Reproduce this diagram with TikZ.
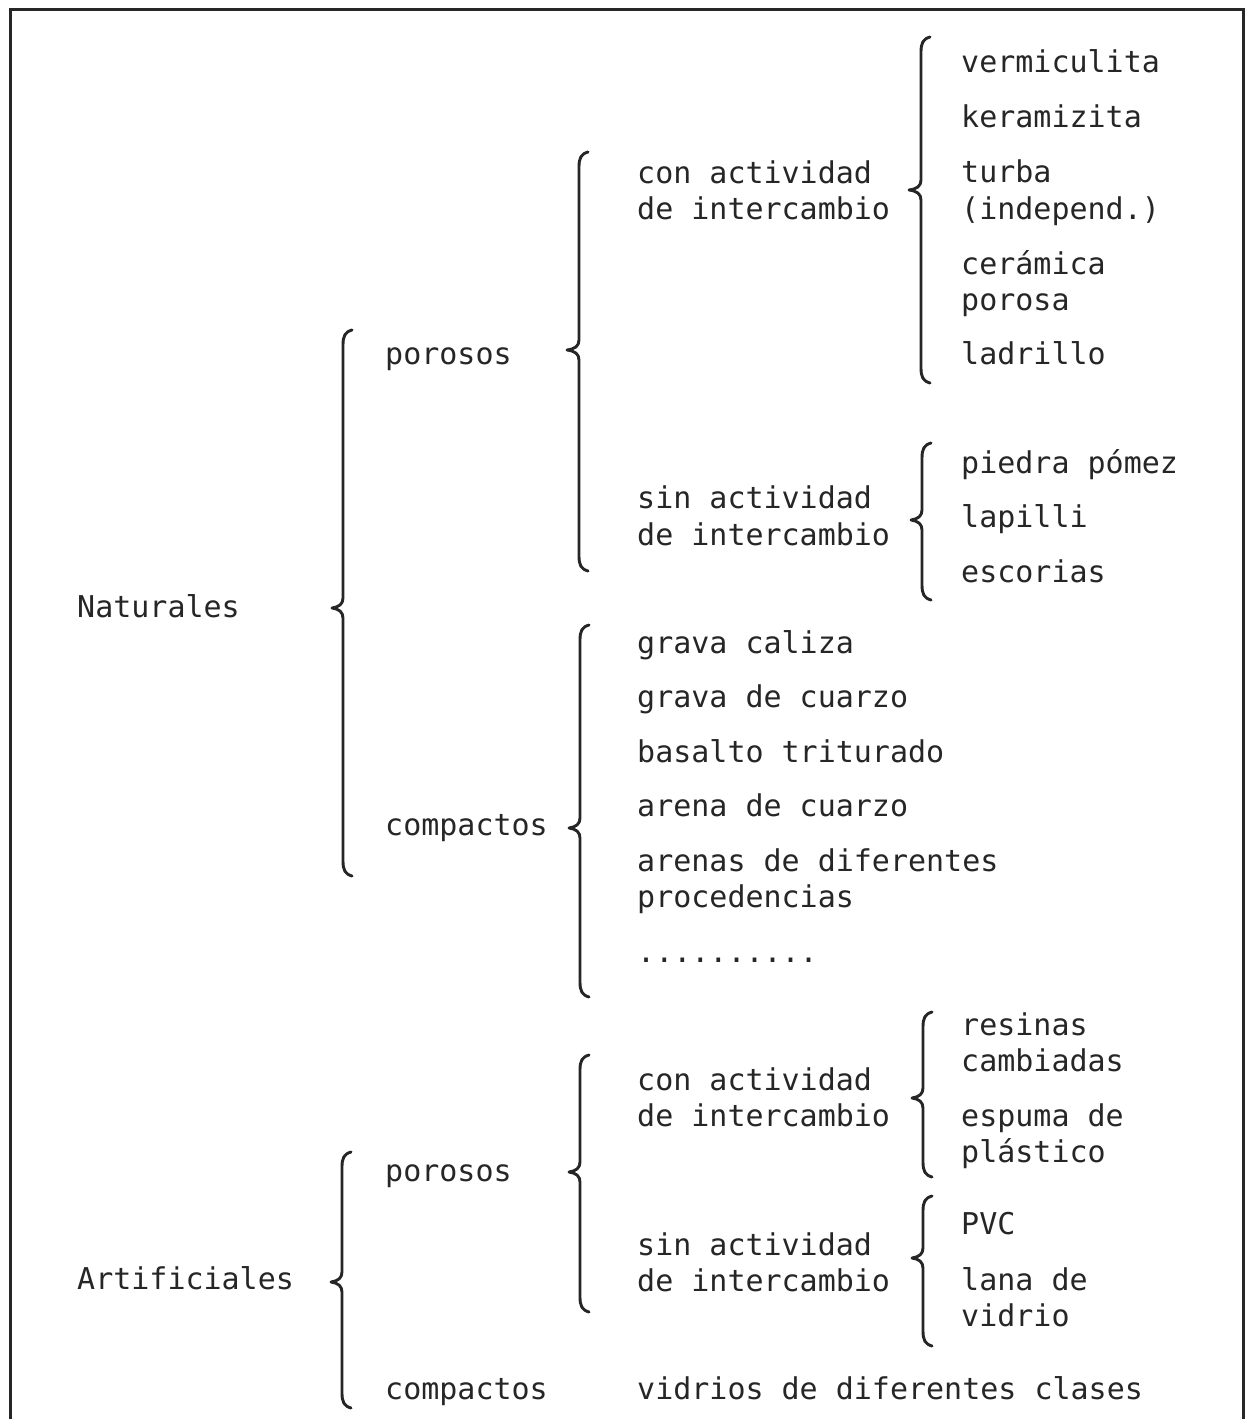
\documentclass[tikz,border=0pt]{standalone}
\usepackage{fontspec}
\setmonofont{DejaVu Sans Mono}
\newcommand{\mybrace}[5]{%
  % #1 x of vertical line, #2 top y, #3 tip y, #4 bottom y, #5 tip x
  \draw[bracestyle] ({#1+9},{#2}) .. controls ({#1+2},{#2+2}) and ({#1},{#2+6}) .. ({#1},{#2+15})
    -- ({#1},{#3-10}) .. controls ({#1},{#3-4}) and ({#1-4},{#3-1}) .. ({#5},{#3})
    .. controls ({#1-4},{#3+1}) and ({#1},{#3+4}) .. ({#1},{#3+10})
    -- ({#1},{#4-15}) .. controls ({#1},{#4-6}) and ({#1+2},{#4-2}) .. ({#1+9},{#4});}
\tikzset{
  lbl/.style={anchor=base west, inner sep=0pt, font=\ttfamily\fontsize{30}{36}\selectfont, text=black!85},
  bracestyle/.style={line width=2.9pt, line cap=round, line join=round, black!85},
  framestyle/.style={line width=3pt, black!85}
}
\begin{document}
\begin{tikzpicture}[x=1pt,y=-1pt]
\useasboundingbox (0,0) rectangle (1255,1419);
% frame
\draw[framestyle] (10,1419) -- (10,9) -- (1243,9) -- (1243,1419);

% level 1
\node[lbl] (nat) at (77,617) {Naturales};
\node[lbl] (art) at (77,1289) {Artificiales};

% level 2
\node[lbl] (npor) at (385,364) {porosos};
\node[lbl] (ncomp) at (385,835) {compactos};
\node[lbl] (apor) at (385,1181) {porosos};
\node[lbl] (acomp) at (385,1399) {compactos};

% level 3 natural porous
\node[lbl] (ncon1) at (637,183) {con actividad};
\node[lbl] (ncon2) at (637,219) {de intercambio};
\node[lbl] (nsin1) at (637,508) {sin actividad};
\node[lbl] (nsin2) at (637,545) {de intercambio};

% items natural porous with activity
\node[lbl] (verm) at (961,72) {vermiculita};
\node[lbl] (kera) at (961,127) {keramizita};
\node[lbl] (turb1) at (961,182) {turba};
\node[lbl] (turb2) at (961,219) {(independ.)};
\node[lbl] (cer1) at (961,274) {cerámica};
\node[lbl] (cer2) at (961,310) {porosa};
\node[lbl] (ladr) at (961,364) {ladrillo};

% items natural porous without activity
\node[lbl] (pied) at (961,473) {piedra pómez};
\node[lbl] (lapi) at (961,527) {lapilli};
\node[lbl] (esco) at (961,582) {escorias};

% natural compact
\node[lbl] (grc) at (637,653) {grava caliza};
\node[lbl] (grq) at (637,707) {grava de cuarzo};
\node[lbl] (bas) at (637,762) {basalto triturado};
\node[lbl] (arq) at (637,816) {arena de cuarzo};
\node[lbl] (ard1) at (637,871) {arenas de diferentes};
\node[lbl] (ard2) at (637,907) {procedencias};
\node[lbl] (dots) at (637,962) {..........};

% artificial porous
\node[lbl] (acon1) at (637,1090) {con actividad};
\node[lbl] (acon2) at (637,1126) {de intercambio};
\node[lbl] (asin1) at (637,1255) {sin actividad};
\node[lbl] (asin2) at (637,1291) {de intercambio};

\node[lbl] (res1) at (961,1035) {resinas};
\node[lbl] (res2) at (961,1071) {cambiadas};
\node[lbl] (esp1) at (961,1126) {espuma de};
\node[lbl] (esp2) at (961,1162) {plástico};

\node[lbl] (pvc) at (961,1234) {PVC};
\node[lbl] (lana1) at (961,1290) {lana de};
\node[lbl] (lana2) at (961,1326) {vidrio};

\node[lbl] (vid) at (637,1399) {vidrios de diferentes clases};

% braces
\mybrace{343}{330}{608}{876}{332}
\mybrace{579}{152}{350}{571}{567}
\mybrace{580}{625}{828}{997}{569}
\mybrace{921}{37}{190}{383}{909}
\mybrace{922}{443}{520}{600}{911}
\mybrace{342}{1152}{1282}{1408}{331}
\mybrace{580}{1055}{1172}{1312}{569}
\mybrace{923}{1012}{1098}{1177}{912}
\mybrace{923}{1196}{1258}{1346}{912}
\end{tikzpicture}
\end{document}
